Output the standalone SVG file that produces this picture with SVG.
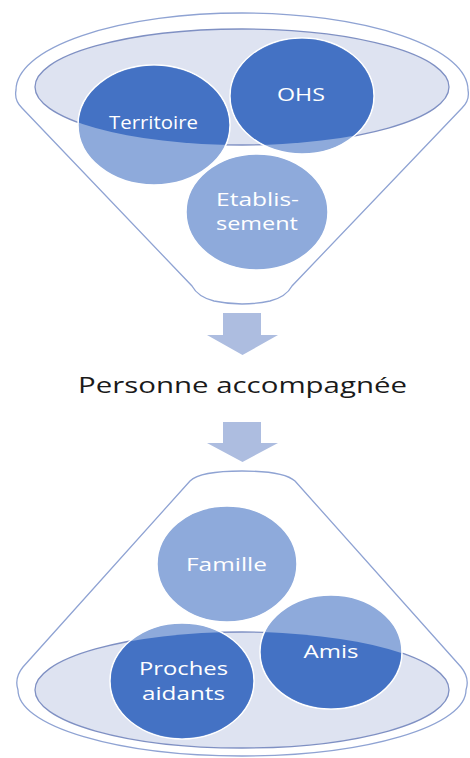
<svg xmlns="http://www.w3.org/2000/svg" width="470" height="758" viewBox="0 0 470 758">
  <style>
    .funnel { fill: #ffffff; stroke: #8fa3d3; stroke-width: 1.3; }
    .rim { fill: #dee3f1; stroke: #7f90c3; stroke-width: 1.3; }
    .light { fill: #8eaadb; stroke: #ffffff; stroke-width: 1.5; }
    .dark { fill: #4472c4; }
    .lbl { font-family: "Open Sans", "Liberation Sans", sans-serif; font-size: 19px; font-weight: 500; fill: #ffffff; text-anchor: middle; }
    .title { font-family: "Open Sans", "Liberation Sans", sans-serif; font-size: 21px; fill: #1a1a1a; text-anchor: middle; }
    .arrow { fill: #adbde0; }
  </style>
  <defs>
    <clipPath id="rimTop"><ellipse cx="242" cy="87" rx="207" ry="58"/></clipPath>
    <clipPath id="rimBottom"><ellipse cx="242" cy="690" rx="207" ry="58"/></clipPath>
  </defs>

  <!-- upper funnel -->
  <g id="funnel-top">
    <path class="funnel" d="M 16,90 A 226,77 0 0 1 468,90 Q 470,100 462,108 L 292,286 Q 286,297 270,301 Q 242,307 214,301 Q 198,297 192,286 L 22,108 Q 14,100 16,90 Z"/>
    <ellipse class="rim" cx="242" cy="87" rx="207" ry="58"/>
  </g>

  <g id="node-territoire">
    <ellipse class="light" cx="154" cy="125" rx="76" ry="60"/>
    <ellipse class="dark" cx="154" cy="125" rx="75.2" ry="59.2" clip-path="url(#rimTop)"/>
    <text class="lbl" x="153.5" y="129" textLength="89" lengthAdjust="spacingAndGlyphs">Territoire</text>
  </g>

  <g id="node-ohs">
    <ellipse class="light" cx="302" cy="96" rx="72" ry="58"/>
    <ellipse class="dark" cx="302" cy="96" rx="71.2" ry="57.2" clip-path="url(#rimTop)"/>
    <text class="lbl" x="301" y="101" textLength="48" lengthAdjust="spacingAndGlyphs">OHS</text>
  </g>

  <g id="node-etablissement">
    <ellipse class="light" cx="257" cy="212" rx="71" ry="58"/>
    <text class="lbl" x="257.5" y="206" textLength="83" lengthAdjust="spacingAndGlyphs">Etablis-</text>
    <text class="lbl" x="257" y="230" textLength="82" lengthAdjust="spacingAndGlyphs">sement</text>
  </g>

  <!-- downward arrows -->
  <g id="connectors">
    <path class="arrow" d="M 223,313 H 261 V 335 H 278 L 242.5,355 L 207,335 H 223 Z"/>
    <path class="arrow" d="M 223,422 H 261 V 443 H 278 L 242.5,462 L 207,443 H 223 Z"/>
  </g>

  <g id="node-personne">
    <text class="title" x="242.5" y="393" textLength="329" lengthAdjust="spacingAndGlyphs">Personne accompagnée</text>
  </g>

  <!-- lower funnel -->
  <g id="funnel-bottom">
    <path class="funnel" d="M 190,481 Q 200,471 242,471 Q 284,471 295,481 L 461,667 Q 470,678 466,690 A 224,66 0 0 1 18,690 Q 14,678 23,667 Z"/>
    <ellipse class="rim" cx="242" cy="690" rx="207" ry="58"/>
  </g>

  <g id="node-famille">
    <ellipse class="light" cx="227" cy="564" rx="70" ry="58"/>
    <text class="lbl" x="226.5" y="571" textLength="81" lengthAdjust="spacingAndGlyphs">Famille</text>
  </g>

  <g id="node-proches">
    <ellipse class="light" cx="182" cy="681" rx="72" ry="58"/>
    <ellipse class="dark" cx="182" cy="681" rx="71.2" ry="57.2" clip-path="url(#rimBottom)"/>
    <text class="lbl" x="183.5" y="675" textLength="89" lengthAdjust="spacingAndGlyphs">Proches</text>
    <text class="lbl" x="183.5" y="700" textLength="83" lengthAdjust="spacingAndGlyphs">aidants</text>
  </g>

  <g id="node-amis">
    <ellipse class="light" cx="331" cy="652" rx="71" ry="57"/>
    <ellipse class="dark" cx="331" cy="652" rx="70.2" ry="56.2" clip-path="url(#rimBottom)"/>
    <text class="lbl" x="331" y="658" textLength="55" lengthAdjust="spacingAndGlyphs">Amis</text>
  </g>
</svg>
